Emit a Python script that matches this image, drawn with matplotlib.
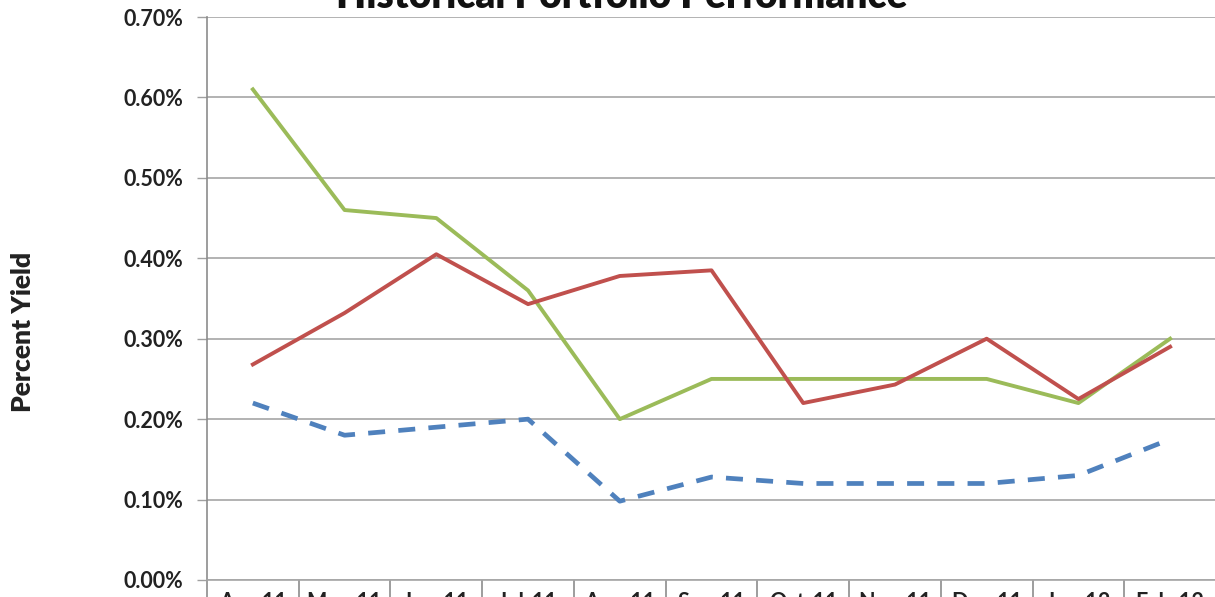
import matplotlib
matplotlib.use("Agg")
import matplotlib.pyplot as plt
from matplotlib.ticker import FuncFormatter, FixedLocator


# Data (percent yield)
months = ["Apr-11", "May-11", "Jun-11", "Jul-11", "Aug-11", "Sep-11",
          "Oct-11", "Nov-11", "Dec-11", "Jan-12", "Feb-12"]
green_vals = [0.61, 0.46, 0.45, 0.36, 0.20, 0.25, 0.25, 0.25, 0.25, 0.22, 0.30]
red_vals = [0.268, 0.332, 0.405, 0.343, 0.378, 0.385, 0.22, 0.243, 0.30, 0.225, 0.29]
blue_vals = [0.22, 0.18, 0.19, 0.20, 0.098, 0.128, 0.12, 0.12, 0.12, 0.13, 0.175]

W, H = 1215, 597
fig = plt.figure(figsize=(W / 100, H / 100), dpi=100)

# axes box in pixels: left 207, right 1216, top 17, bottom 580
left, right, top, bottom = 207, 1216, 17, 580
ax = fig.add_axes([left / W, 1 - bottom / H, (right - left) / W, (bottom - top) / H])

x = list(range(len(months)))
ax.plot(x, green_vals, color="#9BBB59", lw=2.8, zorder=3)
ax.plot(x, red_vals, color="#C0504D", lw=2.8, zorder=3)
ax.plot(x, blue_vals, color="#4F81BD", lw=3.4, dashes=(3.6, 2.8), zorder=3)

ax.set_xlim(-0.5, len(months) - 0.5)
ax.set_ylim(0, 0.7)

font = "Lato"

# y axis
ax.set_yticks([i / 10 for i in range(8)])
ax.yaxis.set_major_formatter(FuncFormatter(lambda v, p: f"{v:.2f}%"))
ax.tick_params(axis="y", length=7, width=1, color="#a0a0a0", pad=10)
for t in ax.get_yticklabels():
    t.set_fontfamily(font)
    t.set_fontweight("bold")
    t.set_fontsize(15.5)
    t.set_color("#222222")
ax.grid(axis="y", color="#a6a6a6", lw=1.2)
ax.set_axisbelow(True)

# x axis: labels in cells with separators
ax.set_xticks(x)
ax.set_xticklabels(months, fontfamily=font, fontweight="bold", fontsize=15.5, color="#222222")
ax.tick_params(axis="x", which="major", length=0, pad=8.5)
ax.xaxis.set_minor_locator(FixedLocator([i - 0.5 for i in range(len(months) + 1)]))
ax.tick_params(axis="x", which="minor", length=25, width=1.2, color="#8c8c8c", direction="out")

for s in ["top", "right"]:
    ax.spines[s].set_visible(False)
ax.spines["left"].set_color("#8c8c8c")
ax.spines["left"].set_linewidth(1.2)
ax.spines["bottom"].set_color("#a6a6a6")
ax.spines["bottom"].set_linewidth(1.2)

fig.text(23 / W, 1 - 332 / H, "Percent Yield", rotation=90, ha="center", va="center",
         fontfamily=font, fontweight="heavy", fontsize=19, color="#222222")

fig.text(622 / W, 1 - 8 / H, "Historical Portfolio Performance", ha="center", va="baseline",
         fontfamily=font, fontweight="heavy", fontsize=28, color="#111111")

fig.savefig("out.png", dpi=100)
